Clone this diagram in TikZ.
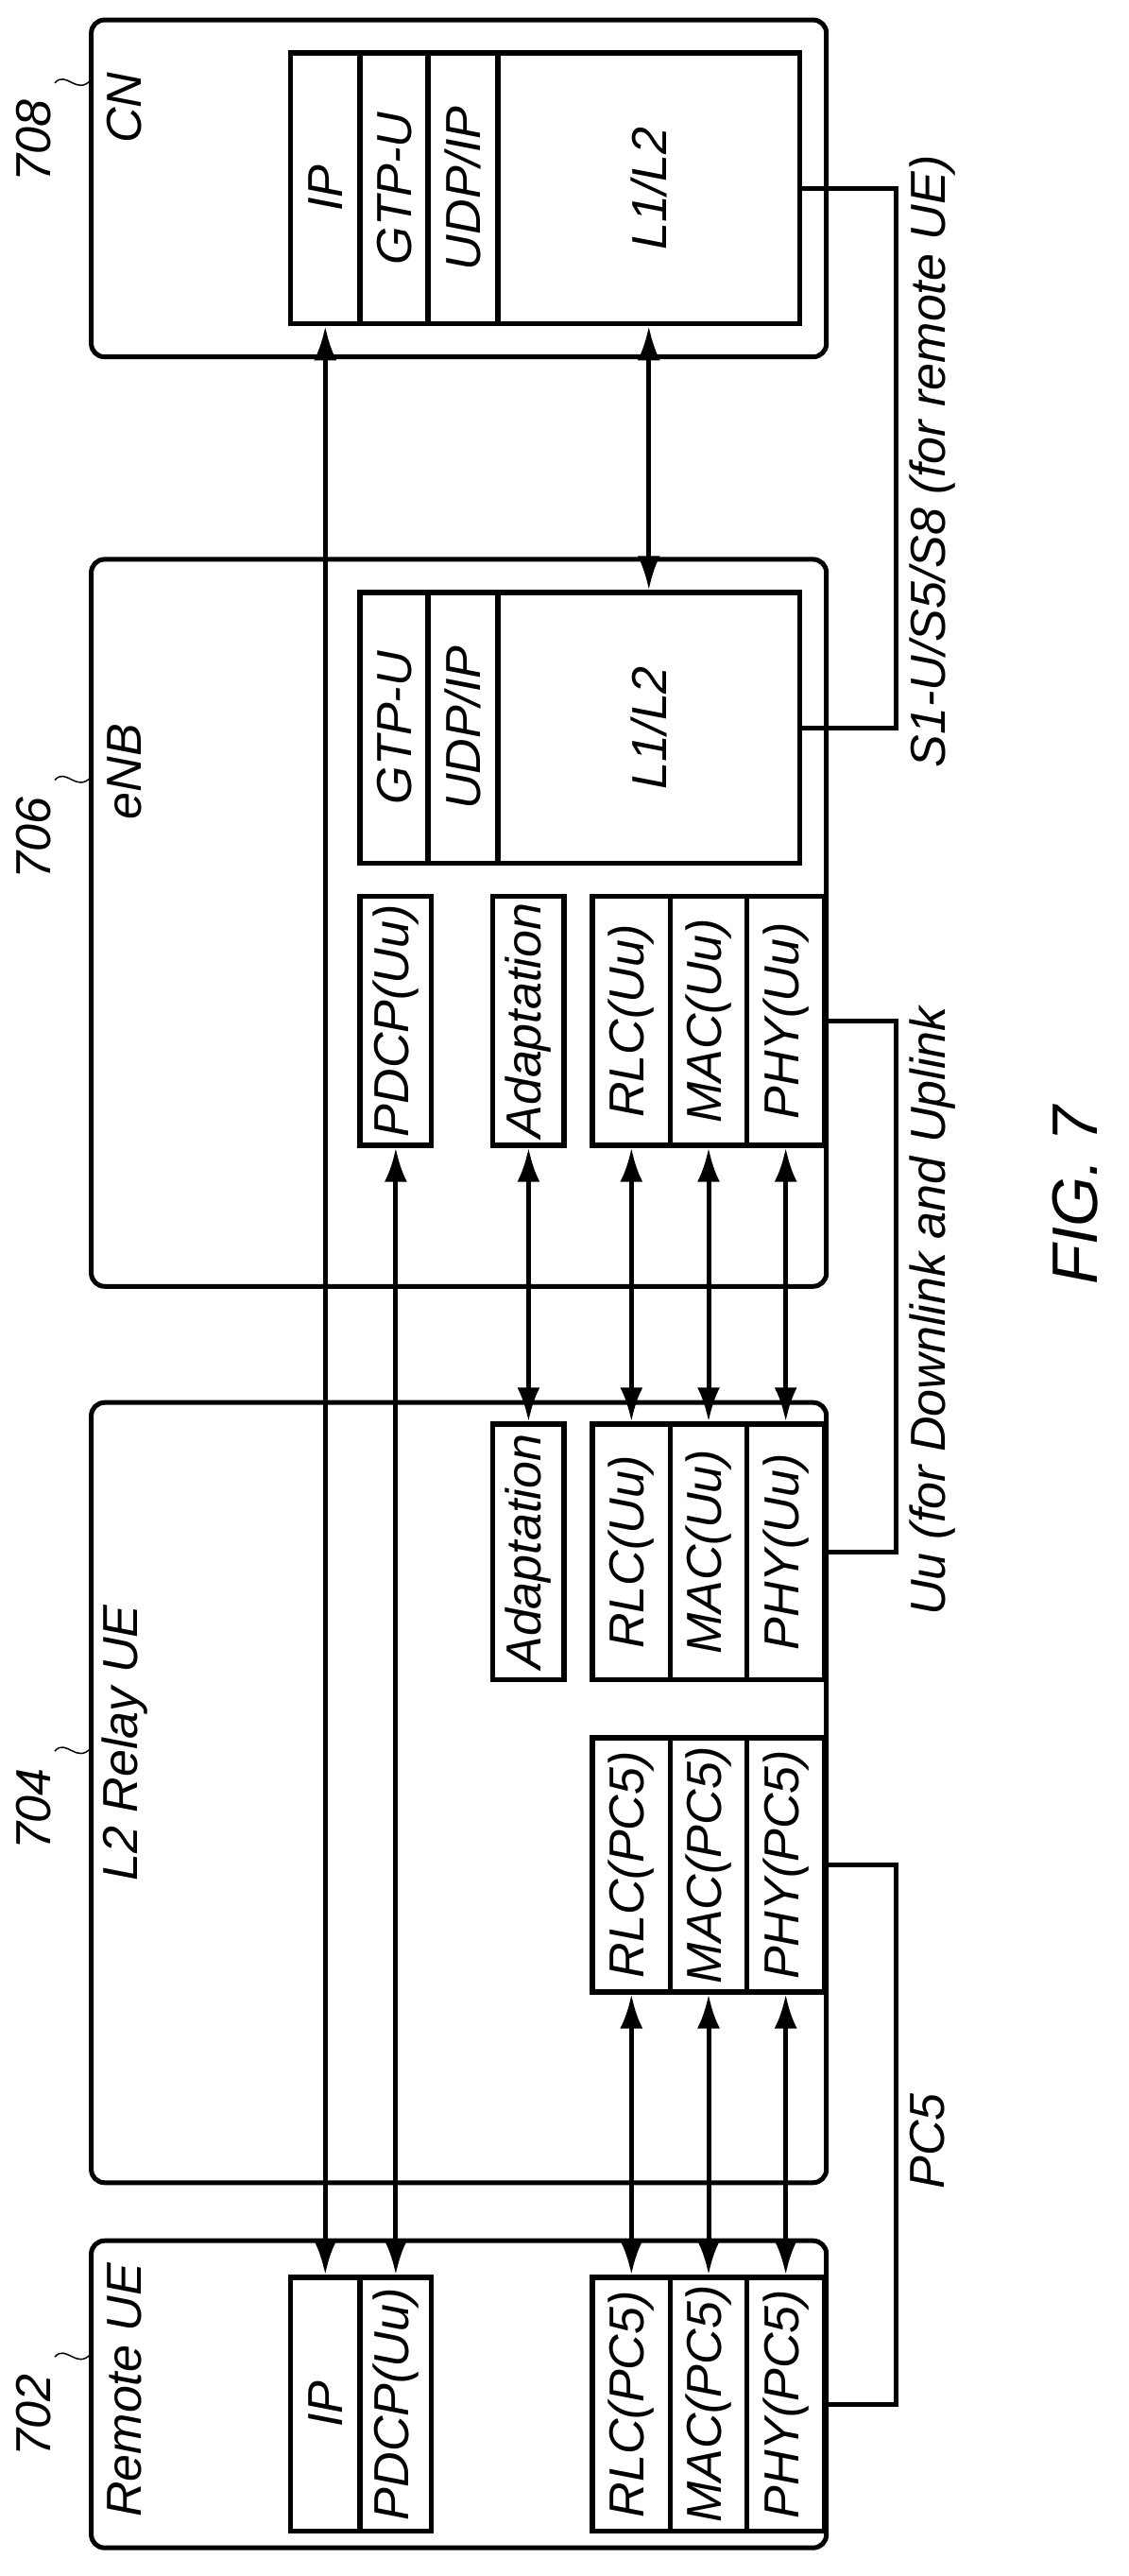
\documentclass[tikz,border=0pt]{standalone}
\usepackage{fontspec}
\setmainfont{Liberation Sans}
\usetikzlibrary{arrows.meta,positioning}

\tikzset{
  unit/.style={draw, line width=5pt, rounded corners=14pt},
  layer/.style={draw, line width=5.5pt, rotate=90, inner sep=0pt,
                font=\fontsize{52}{56}\selectfont\itshape},
  tag/.style={rotate=90, inner sep=0pt, font=\fontsize{52}{56}\selectfont\itshape},
  link/.style={line width=5pt, {Latex[length=36pt,width=24pt]}-{Latex[length=36pt,width=24pt]}},
  wire/.style={line width=5pt}
}
% one protocol layer: name, x1, y1, x2, y2, text
\newcommand{\stacklayer}[6]{%
  \node[layer, minimum width={(#5-#3)*1.756pt}, minimum height={(#4-#2)*1.756pt}]
    (#1) at ({(#2+#4)/2},{(#3+#5)/2}) {#6};}

\begin{document}
\begin{tikzpicture}[x=1.756pt, y=-1.756pt]
  \useasboundingbox (0,0) rectangle (680,1552);

  % entities
  \draw[unit] (55,12) rectangle (498,215);
  \draw[unit] (55,337) rectangle (498,775);
  \draw[unit] (55,845) rectangle (498,1315);
  \draw[unit] (55,1350) rectangle (498,1535);

  \node[tag] (cnname) at (75,65) {CN};
  \node[tag] (enbname) at (75,465) {eNB};
  \node[tag] (relayname) at (75,1050) {L2 Relay UE};
  \node[tag] (remotename) at (75,1440) {Remote UE};

  \node[tag] (n708) at (20,85) {708};
  \node[tag] (n706) at (20,505) {706};
  \node[tag] (n704) at (20,1090) {704};
  \node[tag] (n702) at (20,1455) {702};
  \foreach \y in {50,470,1055,1420}
    \draw[line width=1.5pt] (33,\y) .. controls (40,\y-8) and (46,\y+8) .. (55,\y-2);

  % CN stack
  \stacklayer{cnip}{175}{32}{217}{195}{IP}
  \stacklayer{cngtp}{217}{32}{258}{195}{GTP-U}
  \stacklayer{cnudp}{258}{32}{300}{195}{UDP/IP}
  \stacklayer{cnl}{300}{32}{482}{195}{L1/L2}

  % eNB stacks
  \stacklayer{egtp}{217}{357}{258}{520}{GTP-U}
  \stacklayer{eudp}{258}{357}{300}{520}{UDP/IP}
  \stacklayer{el}{300}{357}{482}{520}{L1/L2}
  \stacklayer{epdcp}{217}{540}{260}{690}{PDCP(Uu)}
  \stacklayer{eadapt}{297}{540}{340}{690}{Adaptation}
  \stacklayer{erlc}{357}{540}{404}{690}{RLC(Uu)}
  \stacklayer{emac}{404}{540}{450}{690}{MAC(Uu)}
  \stacklayer{ephy}{450}{540}{497}{690}{PHY(Uu)}

  % relay stacks
  \stacklayer{radapt}{297}{858}{340}{1012}{Adaptation}
  \stacklayer{rrlc}{357}{858}{404}{1012}{RLC(Uu)}
  \stacklayer{rmac}{404}{858}{450}{1012}{MAC(Uu)}
  \stacklayer{rphy}{450}{858}{497}{1012}{PHY(Uu)}
  \stacklayer{rrlcp}{357}{1047}{404}{1200}{RLC(PC5)}
  \stacklayer{rmacp}{404}{1047}{450}{1200}{MAC(PC5)}
  \stacklayer{rphyp}{450}{1047}{497}{1200}{PHY(PC5)}

  % remote UE stacks
  \stacklayer{uip}{175}{1372}{217}{1525}{IP}
  \stacklayer{updcp}{217}{1372}{260}{1525}{PDCP(Uu)}
  \stacklayer{urlc}{357}{1372}{404}{1525}{RLC(PC5)}
  \stacklayer{umac}{404}{1372}{450}{1525}{MAC(PC5)}
  \stacklayer{uphy}{450}{1372}{497}{1525}{PHY(PC5)}

  % peer links
  \draw[link] (cnip.west) -- (uip.east);
  \draw[link] (epdcp.west) -- (updcp.east);
  \draw[link] (cnl.west) -- (el.east);
  \draw[link] (eadapt.west) -- (radapt.east);
  \draw[link] (erlc.west) -- (rrlc.east);
  \draw[link] (emac.west) -- (rmac.east);
  \draw[link] (ephy.west) -- (rphy.east);
  \draw[link] (rrlcp.west) -- (urlc.east);
  \draw[link] (rmacp.west) -- (umac.east);
  \draw[link] (rphyp.west) -- (uphy.east);

  % interfaces
  \coordinate (pcfive) at (540,1290);
  \coordinate (uu) at (540,790);
  \coordinate (sone) at (540,278);
  \draw[wire] (uphy.south) -| (pcfive) |- (rphyp.south);
  \draw[wire] (rphy.south) -| (uu) |- (ephy.south);
  \draw[wire] (el.south) -| (sone) |- (cnl.south);
  \node[tag, right=14pt of pcfive, anchor=north] (pclabel) {PC5};
  \node[tag, right=14pt of uu, anchor=north] (uulabel) {Uu (for Downlink and Uplink};
  \node[tag, right=14pt of sone, anchor=north] (slabel) {S1-U/S5/S8 (for remote UE)};

  \node[tag, font=\fontsize{68}{72}\selectfont\itshape] (fig) at (648,720) {FIG. 7};
\end{tikzpicture}
\end{document}
